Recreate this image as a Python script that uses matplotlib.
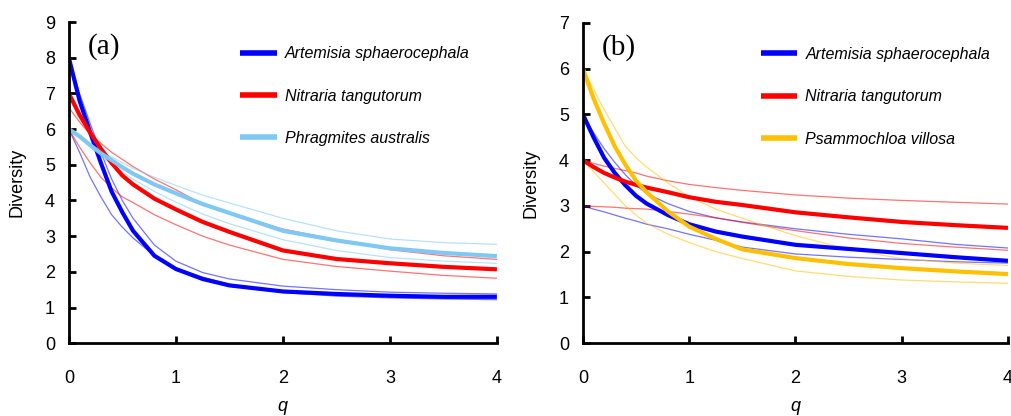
import matplotlib.pyplot as plt
import numpy as np

plt.rcParams['font.family'] = ['Liberation Sans', 'DejaVu Sans']

q = [0, 0.1, 0.2, 0.3, 0.4, 0.5, 0.6, 0.8, 1.0, 1.25, 1.5, 2.0, 2.5, 3.0, 3.5, 4.0]

# panel (a)
art_a = [8.0, 6.8, 5.9, 5.05, 4.25, 3.67, 3.15, 2.45, 2.08, 1.8, 1.62, 1.45, 1.38, 1.33, 1.3, 1.3]
art_a_hi = [8.0, 7.0, 6.15, 5.35, 4.6, 4.0, 3.5, 2.75, 2.3, 1.98, 1.8, 1.6, 1.5, 1.43, 1.4, 1.38]
art_a_lo = [6.0, 5.35, 4.65, 4.1, 3.6, 3.25, 2.95, 2.45, 2.1, 1.85, 1.65, 1.42, 1.32, 1.27, 1.24, 1.22]
nit_a = [7.0, 6.4, 5.9, 5.45, 5.05, 4.7, 4.45, 4.05, 3.75, 3.4, 3.12, 2.6, 2.36, 2.24, 2.14, 2.07]
nit_a_hi = [6.6, 6.2, 5.85, 5.6, 5.35, 5.15, 4.95, 4.6, 4.3, 3.9, 3.65, 3.2, 2.9, 2.62, 2.45, 2.35]
nit_a_lo = [6.0, 5.5, 5.05, 4.65, 4.35, 4.1, 3.94, 3.6, 3.32, 3.0, 2.75, 2.35, 2.15, 2.02, 1.9, 1.82]
phr_a = [6.0, 5.8, 5.55, 5.32, 5.13, 4.93, 4.75, 4.45, 4.2, 3.9, 3.65, 3.15, 2.88, 2.66, 2.53, 2.44]
phr_a_hi = [6.0, 5.8, 5.6, 5.4, 5.22, 5.06, 4.9, 4.65, 4.42, 4.15, 3.93, 3.5, 3.15, 2.92, 2.82, 2.77]
phr_a_lo = [6.0, 5.75, 5.5, 5.25, 5.02, 4.8, 4.6, 4.25, 3.95, 3.62, 3.35, 2.9, 2.6, 2.4, 2.3, 2.24]

# panel (b)
art_b = [5.0, 4.5, 4.05, 3.72, 3.45, 3.22, 3.05, 2.8, 2.6, 2.44, 2.33, 2.15, 2.06, 1.97, 1.88, 1.8]
art_b_hi = [5.0, 4.6, 4.25, 3.95, 3.68, 3.45, 3.27, 3.05, 2.88, 2.74, 2.65, 2.5, 2.38, 2.28, 2.16, 2.08]
art_b_lo = [3.0, 2.93, 2.87, 2.8, 2.73, 2.67, 2.6, 2.5, 2.38, 2.25, 2.1, 1.95, 1.88, 1.83, 1.78, 1.75]
nit_b = [4.0, 3.85, 3.72, 3.62, 3.53, 3.46, 3.4, 3.3, 3.19, 3.09, 3.02, 2.86, 2.75, 2.65, 2.58, 2.52]
nit_b_hi = [4.0, 3.93, 3.87, 3.82, 3.77, 3.72, 3.65, 3.55, 3.47, 3.4, 3.34, 3.24, 3.17, 3.12, 3.08, 3.04]
nit_b_lo = [3.0, 2.99, 2.98, 2.97, 2.95, 2.94, 2.93, 2.88, 2.82, 2.74, 2.64, 2.46, 2.3, 2.18, 2.1, 2.03]
psa_b = [6.0, 5.35, 4.8, 4.3, 3.9, 3.55, 3.3, 2.88, 2.55, 2.28, 2.05, 1.86, 1.73, 1.64, 1.57, 1.51]
psa_b_hi = [6.0, 5.55, 5.1, 4.7, 4.3, 4.05, 3.85, 3.5, 3.2, 2.93, 2.73, 2.35, 2.05, 1.85, 1.75, 1.7]
psa_b_lo = [4.0, 3.75, 3.5, 3.25, 3.0, 2.8, 2.62, 2.38, 2.2, 2.0, 1.85, 1.58, 1.46, 1.38, 1.34, 1.31]

blue = '#0000ff'
red = '#ff0000'
sky = '#80c8f4'
gold = '#ffc000'

fig = plt.figure(figsize=(10.12, 4.16), dpi=100)
ax1 = fig.add_axes([0.068, 0.175, 0.423, 0.772])
ax2 = fig.add_axes([0.576, 0.175, 0.420, 0.770])


def draw(ax, series, ymax, tag, leg_x):
    for name, c, mid, hi, lo in series:
        ax.plot(q, hi, color=c, lw=0.9, alpha=0.55)
        ax.plot(q, lo, color=c, lw=0.9, alpha=0.55)
    for name, c, mid, hi, lo in series:
        ax.plot(q, mid, color=c, lw=3, label=name, solid_capstyle='butt')
    ax.set_xlim(0, 4)
    ax.set_ylim(0, ymax)
    ax.set_xticks([0, 1, 2, 3, 4])
    ax.set_yticks(range(ymax + 1))
    for s in ['top', 'right']:
        ax.spines[s].set_visible(False)
    for s in ['left', 'bottom']:
        ax.spines[s].set_linewidth(2)
    ax.tick_params(direction='in', length=5, width=2, labelsize=13)
    ax.tick_params(axis='x', pad=19)
    ax.tick_params(axis='y', pad=10)
    ax.set_xlabel('q', style='italic', fontsize=13, labelpad=8)
    ax.set_ylabel('Diversity', fontsize=13, labelpad=14)
    ax.text(0.045, 0.965, tag, transform=ax.transAxes, family='Liberation Serif',
            fontsize=21, va='top')
    leg = ax.legend(loc='upper left', bbox_to_anchor=(leg_x, 0.945), frameon=False,
                    prop={'style': 'italic', 'size': 11.5}, handlelength=2.3,
                    labelspacing=1.72, handletextpad=0.5, borderaxespad=0)
    for line in leg.get_lines():
        line.set_linewidth(4)


draw(ax1, [('Artemisia sphaerocephala', blue, art_a, art_a_hi, art_a_lo),
           ('Nitraria tangutorum', red, nit_a, nit_a_hi, nit_a_lo),
           ('Phragmites australis', sky, phr_a, phr_a_hi, phr_a_lo)],
     9, '(a)', 0.386)
draw(ax2, [('Artemisia sphaerocephala', blue, art_b, art_b_hi, art_b_lo),
           ('Nitraria tangutorum', red, nit_b, nit_b_hi, nit_b_lo),
           ('Psammochloa villosa', gold, psa_b, psa_b_hi, psa_b_lo)],
     7, '(b)', 0.403)

fig.savefig('out.png', dpi=100)
